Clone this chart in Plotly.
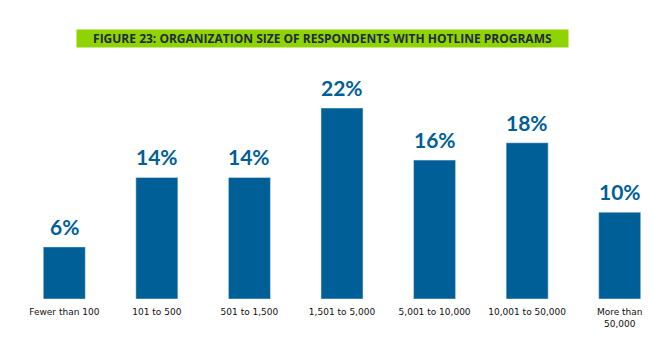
import plotly.graph_objects as go

categories = ["Fewer than 100", "101 to 500", "501 to 1,500", "1,501 to 5,000",
              "5,001 to 10,000", "10,001 to 50,000", "More than<br>50,000"]
values = [6, 14, 14, 22, 16, 18, 10]
labels = [f"{v}%" for v in values]

W, H = 670, 351
T, B = 82, 52
fig = go.Figure(go.Bar(
    x=categories, y=values, marker_color="#005f96",
))
annotations = [dict(
    x=c, y=v, text=f"<b>{t}</b>", xref="x", yref="y", showarrow=False,
    xanchor="center", yanchor="bottom", yshift=6,
    font=dict(family="Lato", size=21, color="#005f96"),
) for c, v, t in zip(categories, values, labels)]
annotations.append(dict(
    text="<b>FIGURE 23: ORGANIZATION SIZE OF RESPONDENTS WITH HOTLINE PROGRAMS</b>",
    xref="paper", yref="paper", x=(322.5 - 18) / (W - 22), y=1 + (T - 38.5) / (H - T - B),
    xanchor="center", yanchor="middle", showarrow=False,
    bgcolor="#8fd400", width=489, height=15,
    font=dict(family="Open Sans", size=12, color="#1f2a44"),
))
fig.update_layout(
    width=W, height=H, margin=dict(l=18, r=4, t=T, b=B),
    plot_bgcolor="white", paper_bgcolor="white", bargap=0.546, showlegend=False,
    xaxis=dict(showline=False, ticks="", tickangle=0, ticklabelstandoff=6,
               tickfont=dict(family="DejaVu Sans", size=9, color="#111111")),
    yaxis=dict(range=[0, 25], visible=False),
    annotations=annotations,
)
fig.write_html("out.html")
